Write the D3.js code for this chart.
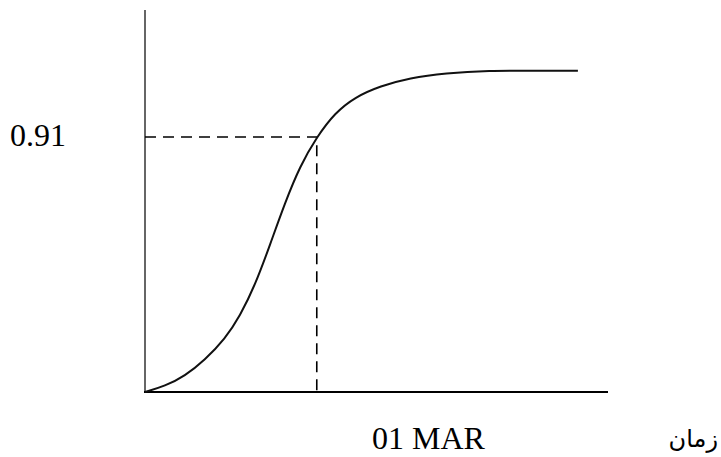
<!DOCTYPE html>
<html>
<head>
<meta charset="utf-8">
<script src="https://cdn.jsdelivr.net/npm/d3@7"></script>
<style>
  body { margin: 0; background: #fff; }
  svg { display: block; }
</style>
</head>
<body>
<svg width="721" height="457"></svg>
<script>
// curve samples: time (arbitrary units along the axis) and cumulative value
var times = [0, 4.3, 8.6, 12.9, 17.3, 20.5, 23.8, 27.0, 30.2, 33.5, 37.1, 41.0, 45.4, 50.8, 57.2, 64.8, 74.5, 83.2, 93.5];
var values = [0, 0.021, 0.057, 0.114, 0.19, 0.271, 0.382, 0.525, 0.674, 0.807, 0.91, 0.996, 1.053, 1.092, 1.121, 1.138, 1.147, 1.146, 1.146];

var markTime = 37.1;
var markValue = 0.91;
var yLabel = "0.91";
var xLabel = "01 MAR";
var axisTitle = "زمان";

var svg = d3.select("svg");

var x = d3.scaleLinear().domain([0, 100]).range([145, 608]);
var y = d3.scaleLinear().domain([0, 0.91]).range([392, 137]);

var points = times.map((t, i) => [t, values[i]]);

// axes (plain lines, no ticks)
svg.append("line")
  .attr("x1", x(0)).attr("x2", x(0))
  .attr("y1", y(0)).attr("y2", 10)
  .attr("stroke", "#666")
  .attr("stroke-width", 2);

svg.append("line")
  .attr("x1", x(0) - 1).attr("x2", x(100))
  .attr("y1", y(0)).attr("y2", y(0))
  .attr("stroke", "#000")
  .attr("stroke-width", 2);

// dashed guides to the marked point
svg.append("path")
  .attr("d", d3.line()([[x(0), y(markValue)], [x(markTime), y(markValue)], [x(markTime), y(0)]]))
  .attr("fill", "none")
  .attr("stroke", "#000")
  .attr("stroke-width", 1.6)
  .attr("stroke-dasharray", "11,7");

var line = d3.line()
  .x((d) => x(d[0]))
  .y((d) => y(d[1]))
  .curve(d3.curveBasis);

svg.append("path")
  .datum(points)
  .attr("d", line)
  .attr("fill", "none")
  .attr("stroke", "#111")
  .attr("stroke-width", 2);

svg.append("text")
  .attr("x", 10)
  .attr("y", 146)
  .attr("font-family", "'Liberation Serif', 'Times New Roman', serif")
  .attr("font-size", 32)
  .attr("fill", "#000")
  .text(yLabel);

svg.append("text")
  .attr("x", 372)
  .attr("y", 449)
  .attr("font-family", "'Liberation Serif', 'Times New Roman', serif")
  .attr("font-size", 32)
  .attr("fill", "#000")
  .text(xLabel);

svg.append("text")
  .attr("x", 718)
  .attr("y", 447)
  .attr("text-anchor", "end")
  .attr("font-family", "'DejaVu Sans', sans-serif")
  .attr("font-size", 24)
  .attr("fill", "#000")
  .text(axisTitle);
</script>
</body>
</html>
